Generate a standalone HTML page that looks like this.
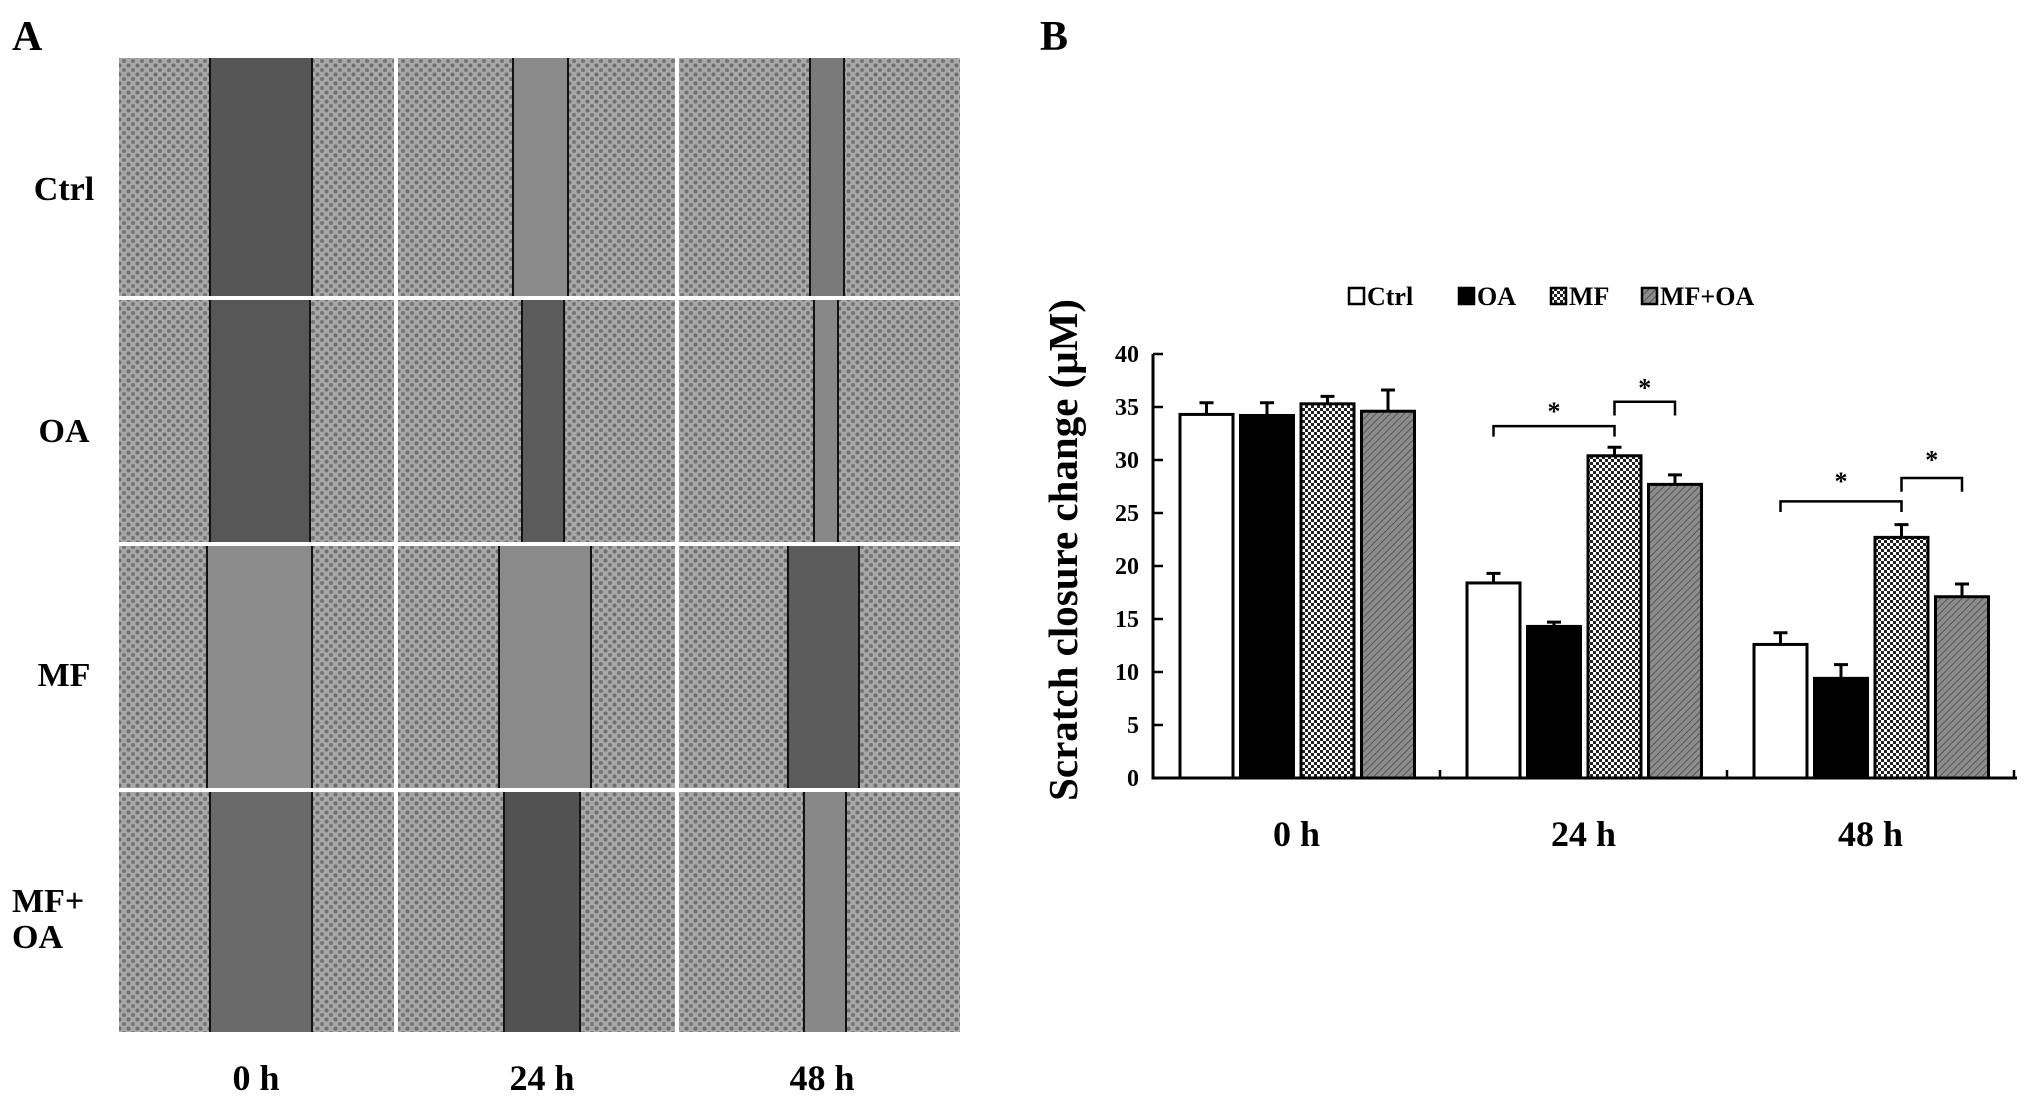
<!DOCTYPE html>
<html><head><meta charset="utf-8"><style>
html,body{margin:0;padding:0;background:#fff;}
body{width:2031px;height:1106px;overflow:hidden;position:relative;font-family:"Liberation Serif",serif;}
svg text{font-family:"Liberation Serif",serif;font-weight:bold;fill:#000;}
</style></head><body>
<svg width="2031" height="1106" viewBox="0 0 2031 1106">
<defs>
<pattern id="cells" width="9" height="9" patternUnits="userSpaceOnUse">
<rect width="9" height="9" fill="#a8a8a8"/>
<circle cx="2.5" cy="2.5" r="2" fill="#6e6e6e"/><circle cx="7" cy="7" r="2" fill="#757575"/>
</pattern>
<pattern id="check" width="6" height="6" patternUnits="userSpaceOnUse">
<rect width="6" height="6" fill="#fff"/><rect width="3" height="3" fill="#222"/><rect x="3" y="3" width="3" height="3" fill="#222"/>
</pattern>
<pattern id="hatch" width="5" height="5" patternUnits="userSpaceOnUse" patternTransform="rotate(45)">
<rect width="5" height="5" fill="#8c8c8c"/><line x1="0" y1="0" x2="0" y2="5" stroke="#555" stroke-width="2"/>
</pattern>
</defs>
<g id="panelA"></g>
<g id="panelB"></g>
</svg>
<script>
const NS='http://www.w3.org/2000/svg';
function mk(p,t,a){const e=document.createElementNS(NS,t);for(const k in a)e.setAttribute(k,a[k]);p.appendChild(e);return e;}
// ---------- Panel A ----------
const A=document.getElementById('panelA');
let t=mk(A,'text',{x:12,y:50,'font-size':42});t.textContent='A';


const colX=[119,398,679], colW=[275,277,281];
const rowY=[58,300,546,792], rowH=[238,242,242,240];
const gaps=[[[210,312,'#565656'],[513,568,'#8a8a8a'],[810,844,'#7a7a7a']],
[[210,310,'#575757'],[522,564,'#5c5c5c'],[814,838,'#888']],
[[207,312,'#8c8c8c'],[499,591,'#8a8a8a'],[788,859,'#5c5c5c']],
[[210,312,'#6a6a6a'],[504,580,'#525252'],[804,846,'#888']]];
const rowNames=['ctrl','oa','mf','mf-oa'];
for(let r=0;r<4;r++)for(let c=0;c<3;c++){
 const g=mk(A,'g',{});
 
 
 mk(g,'rect',{x:colX[c],y:rowY[r],width:colW[c],height:rowH[r],fill:'url(#cells)'});
 const [x1,x2,col]=gaps[r][c];
 mk(g,'rect',{x:x1,y:rowY[r],width:x2-x1,height:rowH[r],fill:col});
 mk(g,'line',{x1:x1,x2:x1,y1:rowY[r],y2:rowY[r]+rowH[r],stroke:'#111','stroke-width':2});
 mk(g,'line',{x1:x2,x2:x2,y1:rowY[r],y2:rowY[r]+rowH[r],stroke:'#111','stroke-width':2});
}
const rl=[['Ctrl',64,200],['OA',64,442],['MF',64,686]];
rl.forEach(([s,x,y])=>{const e=mk(A,'text',{x:x,y:y,'font-size':34,'text-anchor':'middle'});e.textContent=s;

});
t=mk(A,'text',{x:12,y:912,'font-size':34});t.textContent='MF+';


t=mk(A,'text',{x:12,y:948,'font-size':34});t.textContent='OA';
[['0 h',256],['24 h',542],['48 h',822]].forEach(([s,x])=>{const e=mk(A,'text',{x:x,y:1090,'font-size':36,'text-anchor':'middle'});e.textContent=s;

});
</script>
<script>
// ---------- Panel B chart data ----------
const categories=['0 h','24 h','48 h'];
const seriesNames=['Ctrl','OA','MF','MF+OA'];
const ctrlVals=[34.3,18.4,12.6];
const oaVals=[34.2,14.3,9.4];
const mfVals=[35.3,30.4,22.7];
const mfoaVals=[34.6,27.7,17.1];
const ctrlErr=[1.1,0.9,1.1];
const oaErr=[1.2,0.4,1.3];
const mfErr=[0.7,0.8,1.2];
const mfoaErr=[2.0,0.9,1.2];
const yTicks=[0,5,10,15,20,25,30,35,40];
const brackets=[[1,0,2,33.2,32.2,35.1],[1,2,3,35.5,34.2,37.3],[2,0,2,26.1,25.1,28.5],[2,2,3,28.3,27.0,30.5]];

const B=document.getElementById('panelB');
const x0=1153,x1=2017,yBase=778,yTop=354,yMax=40;
const groupW=287;
function yS(v){return yBase-(v/yMax)*(yBase-yTop);}
function barX(g,s){return x0+g*groupW+27+s*60.5;}
const bw=53;
const fills=['#fff','#000','url(#check)','url(#hatch)'];
const vals=[ctrlVals,oaVals,mfVals,mfoaVals], errs=[ctrlErr,oaErr,mfErr,mfoaErr];
let e=mk(B,'text',{x:1040,y:50,'font-size':42});e.textContent='B';


for(let s=0;s<4;s++)for(let g=0;g<3;g++){
 const v=vals[s][g],x=barX(g,s),ye=yS(v+errs[s][g]);
 const r=mk(B,'rect',{x:x,y:yS(v),width:bw,height:yBase-yS(v),fill:fills[s],stroke:'#000','stroke-width':3});
 
 
 const eb=mk(B,'path',{d:`M${x+bw/2},${yS(v)}V${ye}M${x+bw/2-7},${ye}H${x+bw/2+7}`,stroke:'#000','stroke-width':3,fill:'none'});
 
 
}
e=mk(B,'path',{d:`M${x0},${yTop}V${yBase}H${x1}`,stroke:'#000','stroke-width':3,fill:'none'});


yTicks.forEach(v=>{mk(B,'line',{x1:x0,x2:x0+10,y1:yS(v),y2:yS(v),stroke:'#000','stroke-width':2.5});
 const tt=mk(B,'text',{x:x0-14,y:yS(v)+8,'font-size':24,'text-anchor':'end'});tt.textContent=v;
 
 });
for(let g=1;g<=3;g++)mk(B,'line',{x1:x0+g*groupW,x2:x0+g*groupW,y1:yBase,y2:yBase-8,stroke:'#000','stroke-width':2.5});
categories.forEach((c,g)=>{const tt=mk(B,'text',{x:x0+(g+0.5)*groupW,y:846,'font-size':36,'text-anchor':'middle'});tt.textContent=c;
 
 });
e=mk(B,'text',{x:0,y:0,'font-size':41,'text-anchor':'middle',transform:'translate(1077,550) rotate(-90)'});e.textContent='Scratch closure change (μM)';


brackets.forEach(([g,a,b,yb,yt,ys])=>{
 const xa=barX(g,a)+bw/2,xb=barX(g,b)+bw/2;
 const p=mk(B,'path',{d:`M${xa},${yS(yt)}V${yS(yb)}H${xb}V${yS(yt)}`,stroke:'#000','stroke-width':2.5,fill:'none'});
 
 
 const st=mk(B,'text',{x:(xa+xb)/2,y:yS(ys)+14,'font-size':26,'text-anchor':'middle'});st.textContent='*';
 
 
});
const lx=[1349,1459,1551,1642];
seriesNames.forEach((n,i)=>{
 const g=mk(B,'g',{});
 
 
 mk(g,'rect',{x:lx[i],y:288,width:15,height:16,fill:fills[i],stroke:'#000','stroke-width':2.5});
 const tt=mk(g,'text',{x:lx[i]+18,y:305,'font-size':26});tt.textContent=n;
});
</script>
</body></html>
